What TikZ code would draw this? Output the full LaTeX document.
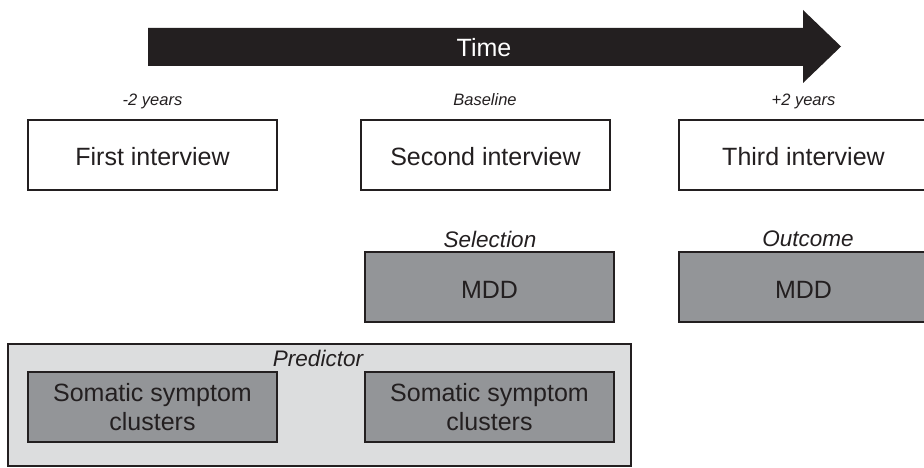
\documentclass[tikz,border=0pt]{standalone}
\usepackage{fontspec}
\setmainfont{Liberation Sans}
\definecolor{ink}{HTML}{231F20}
\definecolor{midgray}{HTML}{939598}
\definecolor{palegray}{HTML}{DCDDDE}
\begin{document}
\begin{tikzpicture}[x=1pt,y=-1pt,
  box/.style={draw=ink, line width=2pt, minimum width=249pt, minimum height=70pt,
    inner sep=0pt, text=ink, font=\fontsize{25}{28.3}\selectfont, align=center},
  onebox/.style={box, text height=22pt, text depth=0pt},
  whitebox/.style={onebox, fill=white},
  darkbox/.style={onebox, fill=midgray},
  darkbox2/.style={box, fill=midgray},
  smalllab/.style={text=ink, font=\fontsize{16.5}{18}\selectfont\itshape, inner sep=0pt, anchor=base},
  biglab/.style={text=ink, font=\fontsize{22.5}{24}\selectfont\itshape, inner sep=0pt, anchor=base},
]
\useasboundingbox (0,0) rectangle (924,468);
\begin{scope}
\clip (0,0) rectangle (924,468);
% time arrow
\fill[ink] (148,28) -- (803,28) -- (803,10) -- (841,46.5) -- (803,83) -- (803,66) -- (148,66) -- cycle;
\node[text=white, font=\fontsize{25}{28}\selectfont, inner sep=0pt] (time) at (484,47.5) {Time};
% time labels
\node[smalllab] (tm2) at (152.5,105.5) {-2 years};
\node[smalllab] (tb) at (485,105.5) {Baseline};
\node[smalllab] (tp2) at (803.5,105.5) {+2 years};
% interviews
\node[whitebox] (i1) at (152.5,155) {First interview};
\node[whitebox] (i2) at (485.5,155) {Second interview};
\node[whitebox] (i3) at (803.5,155) {Third interview};
% selection / outcome
\node[biglab] (sel) at (490,247.5) {Selection};
\node[biglab] (out) at (808,246) {Outcome};
\node[darkbox] (mdd1) at (489.5,287) {MDD};
\node[darkbox] (mdd2) at (803.5,287) {MDD};
% predictor
\node[draw=ink, line width=1.8pt, fill=palegray, minimum width=623pt, minimum height=122pt, inner sep=0pt] (pred) at (319.5,405) {};
\node[biglab] (predlab) at (318,366.5) {Predictor};
\node[darkbox2] (s1) at (152.5,407) {Somatic symptom\\clusters};
\node[darkbox2] (s2) at (489.5,407) {Somatic symptom\\clusters};
\end{scope}
\end{tikzpicture}
\end{document}
